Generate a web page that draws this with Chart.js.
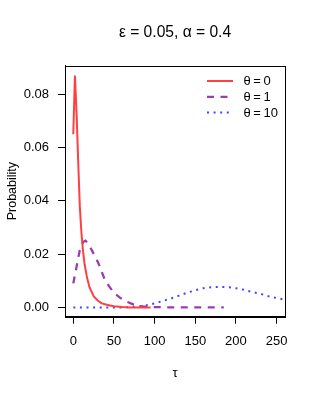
<!DOCTYPE html>
<html>
<head>
<meta charset="utf-8">
<script src="https://cdn.jsdelivr.net/npm/chart.js@4"></script>
<style>
html,body{margin:0;padding:0;background:#fff;}
#wrap{width:318px;height:398px;}
</style>
</head>
<body>
<div id="wrap"><canvas id="c" width="318" height="398"></canvas></div>
<script>
// ---- data ----
const titleText = "ε = 0.05, α = 0.4";
const seriesLabels = ["θ\u2009=\u20090", "θ\u2009=\u20091", "θ\u2009=\u200910"];

const tau0  = [0, 2, 4, 6, 8, 10, 12, 14, 17, 20, 25, 30, 35, 40, 45, 50, 60, 70, 80, 95];
const prob0 = [0.065, 0.087, 0.073, 0.055, 0.038, 0.028, 0.021, 0.016, 0.011, 0.0075, 0.0042, 0.0026, 0.0015, 0.0011, 0.0007, 0.0004, 0.0001, 0, 0, 0];

const tau1  = [0, 4, 8, 12, 15, 19, 23, 27, 31, 35, 39, 45, 51, 58, 66, 73, 80, 90, 100, 120, 150, 185];
const prob1 = [0.009, 0.0152, 0.0215, 0.0245, 0.025, 0.0238, 0.0213, 0.019, 0.0165, 0.0133, 0.0102, 0.0075, 0.0052, 0.0035, 0.0021, 0.0012, 0.0006, 0.0002, 0.0001, 0, 0, 0];

const tau10  = [0, 20, 40, 60, 70, 80, 90, 100, 110, 120, 130, 140, 150, 160, 170, 180, 190, 200, 210, 220, 230, 240, 250, 260, 270];
const prob10 = [0, 0, 0, 0, 0.0001, 0.0003, 0.0008, 0.0015, 0.0024, 0.0033, 0.0044, 0.0055, 0.0064, 0.0072, 0.0076, 0.0077, 0.0076, 0.0072, 0.0066, 0.0058, 0.0051, 0.0042, 0.0035, 0.0029, 0.0024];

const xTicks = [0, 50, 100, 150, 200, 250];
const yTicks = [0, 0.02, 0.04, 0.06, 0.08];

const colors = ["#ff4040", "#9a3db0", "#4545ff"];
// ---------------------------------------

const FONT = "'Liberation Sans', Arial, Helvetica, sans-serif";
const pts = (xs, ys) => xs.map((x, i) => ({x: x, y: ys[i]}));

const boxPlugin = {
  id: 'boxAndLegend',
  afterDraw(chart) {
    const ctx = chart.ctx, a = chart.chartArea;
    ctx.save();
    ctx.strokeStyle = '#000';
    ctx.lineWidth = 1;
    ctx.strokeRect(Math.round(a.left) + 0.5, Math.round(a.top) + 0.5,
                   Math.round(a.right - a.left), Math.round(a.bottom - a.top));
    // title, centred over the plot region
    ctx.fillStyle = '#000';
    ctx.font = "15.6px " + FONT;
    ctx.textAlign = 'center';
    ctx.textBaseline = 'middle';
    ctx.fillText(titleText, (a.left + a.right) / 2, 33);
    // legend
    const rows = [81, 96.8, 112.6];
    ctx.font = "13px " + FONT;
    ctx.textBaseline = 'middle';
    ctx.textAlign = 'left';
    chart.data.datasets.forEach((ds, i) => {
      const y = rows[i];
      ctx.beginPath();
      ctx.strokeStyle = ds.borderColor;
      ctx.lineWidth = ds.borderWidth;
      ctx.setLineDash(ds.borderDash || []);
      ctx.lineCap = ds.borderCapStyle || 'butt';
      ctx.moveTo(207, y);
      ctx.lineTo(233, y);
      ctx.stroke();
      ctx.setLineDash([]);
      ctx.fillStyle = '#000';
      ctx.fillText(ds.label, 243.5, y + 0.5);
    });
    ctx.restore();
  }
};

new Chart(document.getElementById('c'), {
  type: 'line',
  data: {
    datasets: [
      {label: seriesLabels[0], data: pts(tau0, prob0), borderColor: colors[0], borderWidth: 2, borderDash: [], tension: 0},
      {label: seriesLabels[1], data: pts(tau1, prob1), borderColor: colors[1], borderWidth: 2.3, borderDash: [7, 6.5], tension: 0},
      {label: seriesLabels[2], data: pts(tau10, prob10), borderColor: colors[2], borderWidth: 2, borderDash: [2, 4.6], tension: 0}
    ]
  },
  options: {
    responsive: false,
    animation: false,
    devicePixelRatio: 1,
    elements: {point: {radius: 0}, line: {fill: false}},
    layout: {padding: {left: 0, right: 33, top: 65.5, bottom: 0}},
    plugins: {
      legend: {display: false},
      tooltip: {enabled: false},
      title: {display: false}
    },
    scales: {
      x: {
        type: 'linear',
        min: -10.2, max: 260.3,
        afterBuildTicks: s => { s.ticks = xTicks.map(v => ({value: v})); },
        afterFit: s => { s.height = 81.3; },
        ticks: {color: '#000', font: {family: FONT, size: 13}, padding: 10, maxRotation: 0,
                callback: v => String(v)},
        grid: {display: true, drawOnChartArea: false, drawTicks: true, tickLength: 7, color: '#000', tickColor: '#000'},
        border: {display: true, color: '#000', width: 1},
        title: {display: true, text: 'τ', color: '#000', font: {family: FONT, size: 13}, padding: {top: 0, bottom: 17}}
      },
      y: {
        type: 'linear',
        min: -0.0035, max: 0.0908,
        afterBuildTicks: s => { s.ticks = yTicks.map(v => ({value: v})); },
        afterFit: s => { s.width = 65; },
        ticks: {color: '#000', font: {family: FONT, size: 13}, padding: 9,
                callback: v => v.toFixed(2)},
        grid: {display: true, drawOnChartArea: false, drawTicks: true, tickLength: 7, color: '#000', tickColor: '#000'},
        border: {display: true, color: '#000', width: 1},
        title: {display: true, text: 'Probability', color: '#000', font: {family: FONT, size: 12.5}, padding: {top: 5, bottom: 0}}
      }
    }
  },
  plugins: [boxPlugin]
});
</script>
</body>
</html>
